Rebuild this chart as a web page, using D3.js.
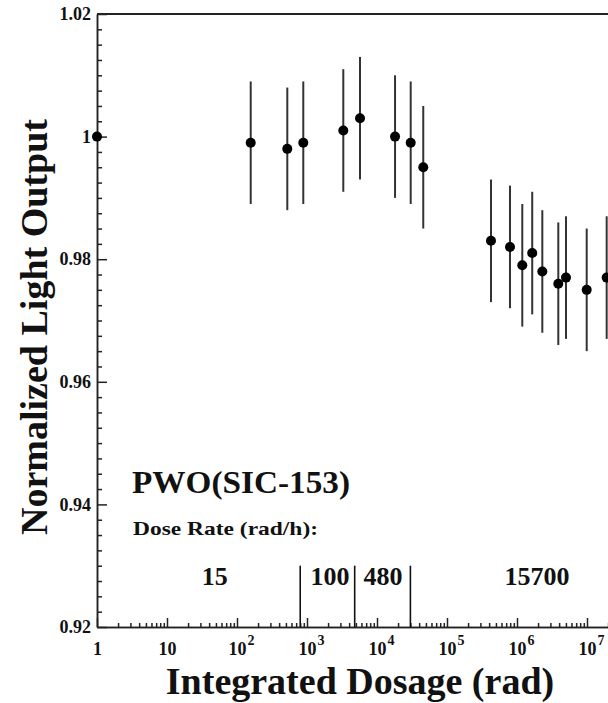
<!DOCTYPE html>
<html>
<head>
<meta charset="utf-8">
<script src="https://cdn.jsdelivr.net/npm/d3@7"></script>
<style>
  body { margin: 0; background: #fff; }
  text { font-family: "Liberation Serif", "Times New Roman", serif; font-weight: bold; fill: #111; }
  .axis path, .axis line { stroke: #222; stroke-width: 1.5; }
  .axis text { font-size: 18px; }
</style>
</head>
<body>
<div id="chart"></div>
<script>
// --- PWO(SIC-153) light output vs. integrated dose ---

const dose  = [1, 157, 523, 885, 3300, 5720, 18100, 30300, 45800,
               4.25e5, 7.94e5, 1.19e6, 1.65e6, 2.30e6, 3.89e6, 5.01e6, 9.9e6, 1.91e7];
const light = [1.000, 0.999, 0.998, 0.999, 1.001, 1.003, 1.000, 0.999, 0.995,
               0.983, 0.982, 0.979, 0.981, 0.978, 0.976, 0.977, 0.975, 0.977];
const lightErr = [0, 0.01, 0.01, 0.01, 0.01, 0.01, 0.01, 0.01, 0.01,
                  0.01, 0.01, 0.01, 0.01, 0.01, 0.01, 0.01, 0.01, 0.01];

const yTicks = [0.92, 0.94, 0.96, 0.98, 1.00, 1.02];
const yTickLabels = ['0.92', '0.94', '0.96', '0.98', '1', '1.02'];
const xTicks = [1, 10, 1e2, 1e3, 1e4, 1e5, 1e6, 1e7];
const xTickExp = [null, null, '2', '3', '4', '5', '6', '7'];

// dose-rate periods: boundaries (rad) and labels (rad/h)
const rateBoundaries = [800, 4800, 30000];
const rateLabels = ['15', '100', '480', '15700'];
const rateLabelDose = [48, 2130, 12200, 1.93e6];

const W = 608, H = 703;
const svg = d3.select('#chart').append('svg').attr('width', W).attr('height', H);

const xScale = d3.scaleLog().domain([1, 1e8]).range([97, 657]);
const yScale = d3.scaleLinear().domain([0.92, 1.02]).range([627, 14]);

// minor ticks
const xMinor = [];
for (let e = 0; e < 8; e++) for (let m = 2; m <= 9; m++) xMinor.push(m * Math.pow(10, e));
const yMinor = d3.range(0, 41).map(i => 0.92 + i * 0.0025)
  .filter(v => !yTicks.some(t => Math.abs(t - v) < 1e-6));

// top frame line
svg.append('line')
  .attr('x1', xScale(1)).attr('x2', W)
  .attr('y1', yScale(1.02)).attr('y2', yScale(1.02))
  .attr('stroke', '#222').attr('stroke-width', 2);

// y axis
svg.append('g')
  .attr('class', 'axis')
  .attr('transform', `translate(${xScale(1)},0)`)
  .call(d3.axisLeft(yScale).tickValues(yMinor).tickSizeInner(-5).tickSizeOuter(0).tickFormat(''));

svg.append('g')
  .attr('class', 'axis')
  .attr('transform', `translate(${xScale(1)},0)`)
  .call(d3.axisLeft(yScale).tickValues(yTicks).tickSizeInner(-10).tickSizeOuter(0).tickPadding(6)
    .tickFormat((d, i) => yTickLabels[i]));

// x axis
svg.append('g')
  .attr('class', 'axis')
  .attr('transform', `translate(0,${yScale(0.92)})`)
  .call(d3.axisBottom(xScale).tickValues(xMinor).tickSizeInner(-4).tickSizeOuter(0).tickFormat(''));

const xAxis = svg.append('g')
  .attr('class', 'axis')
  .attr('transform', `translate(0,${yScale(0.92)})`)
  .call(d3.axisBottom(xScale).tickValues(xTicks).tickSizeInner(-9).tickSizeOuter(0).tickPadding(15)
    .tickFormat(d => d === 1 ? '1' : '10'));

xAxis.selectAll('.tick').each(function(d, i) {
  if (xTickExp[i]) {
    d3.select(this).append('text')
      .attr('x', 10).attr('y', 18)
      .attr('text-anchor', 'start')
      .style('font-size', '14px')
      .attr('fill', '#111')
      .text(xTickExp[i]);
  }
});

// dose-rate dividers and labels
svg.selectAll('.rate-line')
  .data(rateBoundaries)
  .join('line')
  .attr('class', 'rate-line')
  .attr('x1', d => xScale(d)).attr('x2', d => xScale(d))
  .attr('y1', yScale(0.93)).attr('y2', yScale(0.92))
  .attr('stroke', '#111').attr('stroke-width', 1.6);

svg.selectAll('.rate-label')
  .data(rateLabels)
  .join('text')
  .attr('class', 'rate-label')
  .attr('x', (d, i) => xScale(rateLabelDose[i]))
  .attr('y', 585)
  .attr('text-anchor', 'middle')
  .style('font-size', '26px')
  .text(d => d);

// error bars
const pts = dose.map((d, i) => ({ x: d, y: light[i], e: lightErr[i] }));

svg.selectAll('.err')
  .data(pts.filter(p => p.e > 0))
  .join('line')
  .attr('class', 'err')
  .attr('x1', p => xScale(p.x)).attr('x2', p => xScale(p.x))
  .attr('y1', p => yScale(p.y + p.e)).attr('y2', p => yScale(p.y - p.e))
  .attr('stroke', '#333').attr('stroke-width', 2);

svg.selectAll('.pt')
  .data(pts)
  .join('circle')
  .attr('class', 'pt')
  .attr('cx', p => xScale(p.x))
  .attr('cy', p => yScale(p.y))
  .attr('r', 5)
  .attr('fill', '#000');

// annotations
svg.append('text')
  .attr('x', 132).attr('y', 493)
  .style('font-size', '31px')
  .attr('textLength', 218).attr('lengthAdjust', 'spacingAndGlyphs')
  .text('PWO(SIC-153)');

svg.append('text')
  .attr('x', 133).attr('y', 535)
  .style('font-size', '19px')
  .attr('textLength', 185).attr('lengthAdjust', 'spacingAndGlyphs')
  .text('Dose Rate (rad/h):');

// axis titles
svg.append('text')
  .attr('x', 360).attr('y', 694)
  .attr('text-anchor', 'middle')
  .style('font-size', '38px')
  .text('Integrated Dosage (rad)');

svg.append('text')
  .attr('transform', 'rotate(-90)')
  .attr('x', -327).attr('y', 47)
  .attr('text-anchor', 'middle')
  .style('font-size', '38px')
  .text('Normalized Light Output');
</script>
</body>
</html>
